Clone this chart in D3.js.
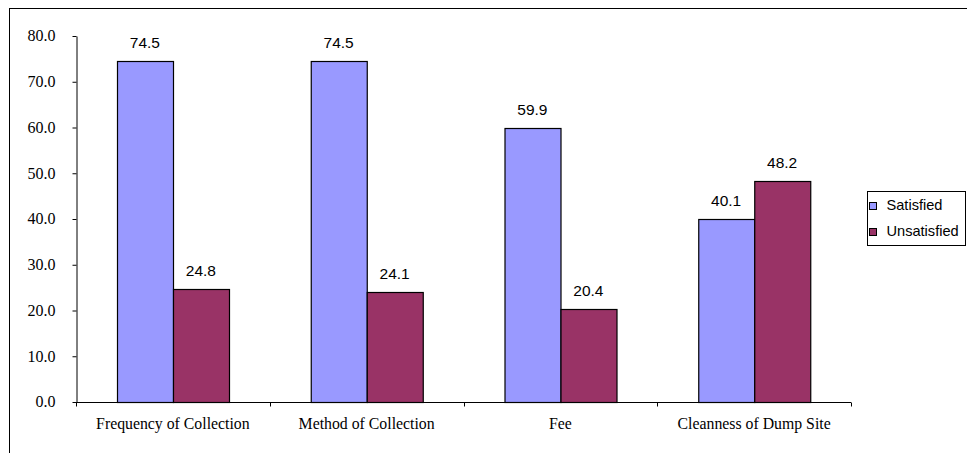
<!DOCTYPE html>
<html>
<head>
<meta charset="utf-8">
<script src="https://cdn.jsdelivr.net/npm/d3@7"></script>
<style>
  html, body { margin: 0; padding: 0; background: #fff; }
  svg { display: block; }
</style>
</head>
<body>
<svg id="chart" width="967" height="453"></svg>
<script>
// Satisfaction with waste collection services (%)
const categories = ["Frequency of Collection", "Method of Collection", "Fee", "Cleanness of Dump Site"];
const seriesNames = ["Satisfied", "Unsatisfied"];
const satisfied = [74.5, 74.5, 59.9, 40.1];
const unsatisfied = [24.8, 24.1, 20.4, 48.2];
const yTicks = [0, 10, 20, 30, 40, 50, 60, 70, 80];
const colors = ["#9999FF", "#993366"];

const SERIF = "'Liberation Serif', 'Times New Roman', serif";
const SANS = "'Liberation Sans', Arial, sans-serif";

const svg = d3.select("#chart");
const W = 967, H = 453;

// outer chart frame
svg.append("rect")
  .attr("x", 9.5).attr("y", 8.5)
  .attr("width", W + 20).attr("height", H + 20)
  .attr("fill", "#fff").attr("stroke", "#000").attr("stroke-width", 1);

const plot = { left: 76, right: 851, top: 36, bottom: 402 };

const x = d3.scaleBand().domain(categories).range([plot.left, plot.right]).paddingInner(0).paddingOuter(0);
const xs = d3.scaleBand().domain(seriesNames).range([0, x.bandwidth()]).paddingInner(0).paddingOuter(0.73);
const y = d3.scaleLinear().domain([0, 80]).range([plot.bottom, plot.top]);

const rows = categories.map((c, i) => ({ cat: c, vals: [satisfied[i], unsatisfied[i]] }));

const groups = svg.append("g").selectAll("g").data(rows).join("g")
  .attr("transform", d => `translate(${x(d.cat)},0)`);

groups.selectAll("rect").data(d => d.vals.map((v, j) => ({ name: seriesNames[j], v, j })))
  .join("rect")
  .attr("x", d => Math.round(xs(d.name)) + 0.5)
  .attr("y", d => Math.round(y(d.v)) + 0.5)
  .attr("width", Math.round(xs.bandwidth()))
  .attr("height", d => Math.round(y(0)) - Math.round(y(d.v)))
  .attr("fill", d => colors[d.j])
  .attr("stroke", "#000").attr("stroke-width", 1.2);

groups.selectAll("text.val").data(d => d.vals.map((v, j) => ({ name: seriesNames[j], v })))
  .join("text")
  .attr("class", "val")
  .attr("x", d => xs(d.name) + xs.bandwidth() / 2)
  .attr("y", d => y(d.v) - 13)
  .attr("text-anchor", "middle")
  .attr("font-family", SANS)
  .attr("font-size", 15.5)
  .attr("fill", "#000")
  .text(d => d.v.toFixed(1));

// y axis
const yAxis = svg.append("g")
  .attr("transform", `translate(${plot.left + 0.5},0)`)
  .call(d3.axisLeft(y).tickValues(yTicks).tickSize(4).tickSizeOuter(0).tickFormat(d => d.toFixed(1)));
yAxis.select(".domain").attr("stroke", "#000");
yAxis.selectAll(".tick line").attr("stroke", "#000");
yAxis.selectAll(".tick text")
  .attr("x", -21)
  .attr("dy", "0.3em")
  .attr("font-family", SERIF)
  .attr("font-size", 16)
  .attr("fill", "#000");

// x axis with ticks between categories
const xAxisG = svg.append("g").attr("transform", `translate(0,${plot.bottom + 0.5})`);
xAxisG.append("line")
  .attr("x1", plot.left).attr("x2", plot.right)
  .attr("stroke", "#000");
const boundaries = categories.map(c => x(c)).concat([plot.right]);
xAxisG.selectAll("line.tk").data(boundaries).join("line")
  .attr("class", "tk")
  .attr("x1", d => Math.round(d) + 0.5).attr("x2", d => Math.round(d) + 0.5)
  .attr("y1", 0).attr("y2", 4)
  .attr("stroke", "#000");
xAxisG.selectAll("text").data(categories).join("text")
  .attr("x", d => x(d) + x.bandwidth() / 2)
  .attr("y", 26)
  .attr("text-anchor", "middle")
  .attr("font-family", SERIF)
  .attr("font-size", 15.8)
  .attr("fill", "#000")
  .text(d => d);

// legend
const lg = svg.append("g").attr("transform", "translate(867.5,191.5)");
lg.append("rect").attr("width", 98).attr("height", 54)
  .attr("fill", "#fff").attr("stroke", "#000");
const items = lg.selectAll("g").data(seriesNames).join("g")
  .attr("transform", (d, i) => `translate(2,${11 + i * 26})`);
items.append("rect")
  .attr("x", 0).attr("y", 0).attr("width", 7).attr("height", 7)
  .attr("fill", (d, i) => colors[i]).attr("stroke", "#000");
items.append("text")
  .attr("x", 17).attr("y", 7)
  .attr("font-family", SANS)
  .attr("font-size", 14.6)
  .attr("fill", "#000")
  .text(d => d);
</script>
</body>
</html>
